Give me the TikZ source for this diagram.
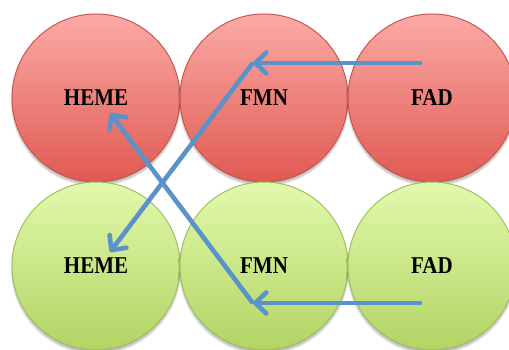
\documentclass[tikz,border=0pt]{standalone}
\usepackage{fontspec}
\setmainfont{Liberation Serif}
\usetikzlibrary{arrows.meta,shadows.blur}
\definecolor{redtop}{RGB}{251,170,166}
\definecolor{redbot}{RGB}{224,90,82}
\definecolor{redline}{RGB}{200,85,80}
\definecolor{greentop}{RGB}{226,249,172}
\definecolor{greenbot}{RGB}{178,212,100}
\definecolor{greenline}{RGB}{160,192,95}
\definecolor{arrowblue}{RGB}{90,146,202}
\newcommand{\lbltext}[1]{\scalebox{1}[1.15]{#1}}
\tikzset{
  disc/.style={circle, minimum size=168pt, inner sep=0pt, line width=1pt,
    font=\bfseries\fontsize{21}{21}\selectfont, text=black,
    blur shadow={shadow xshift=0pt, shadow yshift=-3pt, shadow opacity=30, shadow blur steps=8}},
  reddisc/.style={disc, draw=redline, top color=redtop, bottom color=redbot},
  greendisc/.style={disc, draw=greenline, top color=greentop, bottom color=greenbot},
  flow/.style={draw=arrowblue, line width=4.6pt, line cap=round, line join=round,
    -{Straight Barb[length=11pt,width=21pt,line cap=round,line join=round]}}
}
\begin{document}
\begin{tikzpicture}[x=1pt,y=1pt]
\useasboundingbox (0,0) rectangle (509,349);
\clip (0,0) rectangle (509,349);
\node[reddisc] (heme1) at (96,251) {\lbltext{HEME}};
\node[reddisc] (fmn1) at (264,251) {\lbltext{FMN}};
\node[reddisc] (fad1) at (432,251) {\lbltext{FAD}};
\node[greendisc] (heme2) at (96,83) {\lbltext{HEME}};
\node[greendisc] (fmn2) at (264,83) {\lbltext{FMN}};
\node[greendisc] (fad2) at (432,83) {\lbltext{FAD}};
\coordinate (a1s) at (420,286);
\coordinate (a1e) at (253,286);
\coordinate (a2s) at (252,285);
\coordinate (a2e) at (110,97);
\coordinate (b1s) at (420,46);
\coordinate (b1e) at (253,46);
\coordinate (b2s) at (252,47);
\coordinate (b2e) at (110,236);
\draw[flow] (a1s) -- (a1e);
\draw[flow] (a2s) -- (a2e);
\draw[flow] (b1s) -- (b1e);
\draw[flow] (b2s) -- (b2e);
\end{tikzpicture}
\end{document}
